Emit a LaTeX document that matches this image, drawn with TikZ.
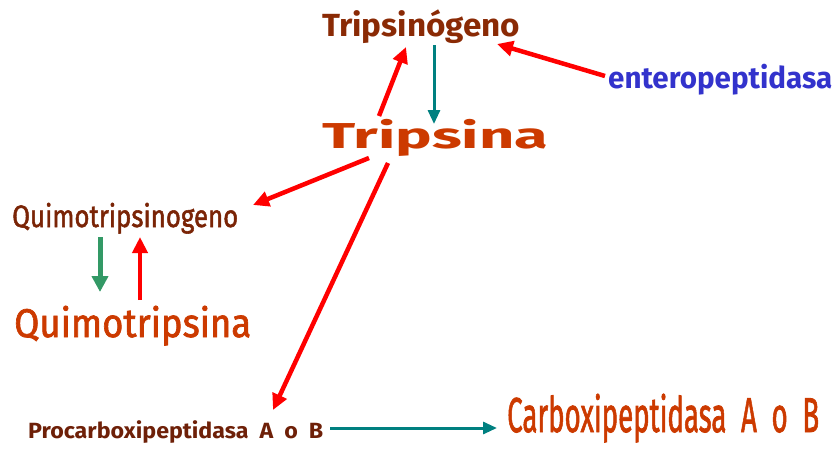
\documentclass[tikz,border=0pt]{standalone}
\usepackage{fontspec}
\setmainfont{Fira Sans}
\newfontfamily\medfont{Fira Sans}[FakeBold=1.8]
\usetikzlibrary{arrows.meta,calc}
\definecolor{darkbrown}{HTML}{8A2A05}
\definecolor{qbrown}{HTML}{7A2406}
\definecolor{probrown}{HTML}{6E2008}
\definecolor{orangered}{HTML}{CC3A00}
\definecolor{entblue}{HTML}{3333CC}
\definecolor{arrred}{HTML}{FF0000}
\definecolor{arrteal}{HTML}{008080}
\definecolor{arrgreen}{HTML}{339966}
\tikzset{
  lbl/.style={inner sep=0pt, anchor=base west},
  redarr/.style={draw=arrred, line width=4.5pt, -{Triangle[length=16pt,width=15pt]}},
  tealarr/.style={draw=arrteal, line width=3pt, -{Triangle[length=14pt,width=12pt]}},
  greenarr/.style={draw=arrgreen, line width=5pt, -{Triangle[length=16pt,width=16pt]}},
}
\newcommand{\fitw}[3]{\resizebox{#1}{\height}{\fontsize{#2}{#2}\selectfont #3}}
\begin{document}
\begin{tikzpicture}[x=1pt,y=-1pt]
\useasboundingbox (0,0) rectangle (838,448);
\node[lbl, text=darkbrown] (tgen) at (322,36) {\fitw{198pt}{32}{\bfseries Tripsinógeno}};
\node[lbl, text=entblue] (ent) at (608,88) {\fitw{224pt}{30}{\bfseries enteropeptidasa}};
\node[lbl, text=orangered] (tsina) at (322,148) {\fitw{226pt}{36}{\bfseries Tripsina}};
\node[lbl, text=qbrown] (qgen) at (12,227) {\fitw{226pt}{31}{\medfont Quimotripsinogeno}};
\node[lbl, text=orangered] (q) at (14,337) {\fitw{237pt}{40}{\medfont Quimotripsina}};
\node[lbl, text=probrown] (pro) at (28,438) {\fitw{295pt}{22}{\bfseries Procarboxipeptidasa\ \ A\ \ o\ \ B}};
\node[lbl, text=orangered] (carb) at (507,432) {\fitw{312pt}{49}{\medfont Carboxipeptidasa\ \ A\ \ o\ \ B}};

\draw[redarr] ($(ent.base west)+(-3,-12)$) -- ($(tgen.base west)+(175,8)$);
\draw[tealarr] ($(tgen.base west)+(112,9)$) -- ($(tsina.base west)+(112,-24)$);
\draw[redarr] ($(tsina.base west)+(57,-32)$) -- ($(tgen.base west)+(84,11)$);
\draw[redarr] ($(tsina.base west)+(47,10)$) -- ($(qgen.base west)+(241,-22)$);
\draw[redarr] ($(tsina.base west)+(66,15)$) -- ($(pro.base west)+(245,-28)$);
\draw[greenarr] ($(qgen.base west)+(88,10)$) -- ($(q.base west)+(86,-45)$);
\draw[redarr] ($(q.base west)+(126,-37)$) -- ($(qgen.base west)+(128,10)$);
\draw[tealarr] ($(pro.base west)+(302,-10)$) -- ($(carb.base west)+(-10,-4)$);
\end{tikzpicture}
\end{document}
